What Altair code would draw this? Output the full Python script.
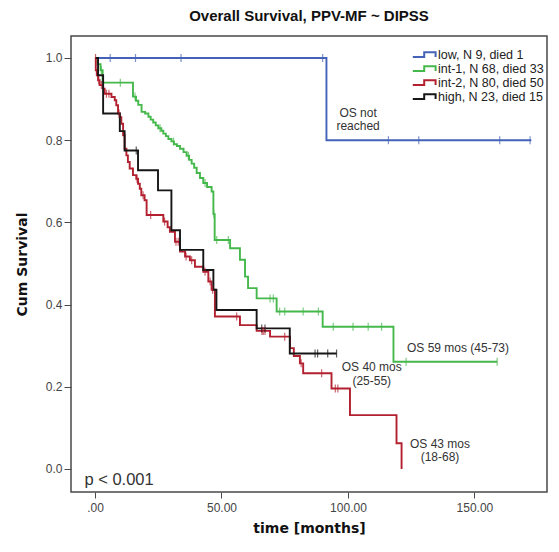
import altair as alt
import pandas as pd

# ---------------- data ----------------
series_names = ["low", "int-1", "int-2", "high"]
series_labels = ["low, N 9, died 1", "int-1, N 68, died 33",
                 "int-2, N 80, died 50", "high, N 23, died 15"]
series_colors = ["#4463b8", "#45b84b", "#b3202f", "#161616"]

low_t = [0, 91.5, 172.5]
low_s = [1.0, 0.8, 0.8]
low_cens = [6, 16, 34, 90, 116, 128, 160, 172]

int1_t = [0, 1.0, 2.2, 3.0, 15.0, 16.2, 17.1, 18.4, 19.8, 21.1, 22.0, 23.0, 24.0,
          25.0, 26.2, 27.0, 28.0, 29.0, 30.2, 31.2, 32.4, 33.6, 35.0, 36.2, 37.2,
          38.2, 39.2, 40.2, 41.5, 42.8, 44.3, 46.1, 46.8, 47.3, 53.4, 57.3, 59.3,
          60.5, 63.9, 71.8, 90.0, 118.0, 159.0]
int1_s = [1.0, 0.985, 0.97, 0.94, 0.906, 0.896, 0.886, 0.869, 0.865, 0.857, 0.850,
          0.843, 0.836, 0.829, 0.823, 0.816, 0.810, 0.803, 0.797, 0.790, 0.786,
          0.779, 0.771, 0.762, 0.752, 0.743, 0.733, 0.720, 0.708, 0.696, 0.686,
          0.675, 0.620, 0.557, 0.537, 0.509, 0.468, 0.440, 0.415, 0.383, 0.346,
          0.261, 0.261]
int1_cens = [2.5, 10, 15.8, 25.7, 31, 36.9, 43.5, 47, 48.1, 52.7, 69.2, 70.5, 73, 75,
             82.3, 88.3, 94.2, 102, 108, 113.3, 123, 159]

int2_t = [0, 0.3, 0.7, 1.2, 1.8, 3.2, 3.8, 6.5, 7.8, 8.4, 9.1, 9.8, 10.4, 11.1, 11.7,
          12.4, 13.0, 13.7, 15.0, 16.3, 17.0, 17.7, 18.3, 19.6, 20.4, 27.0, 28.7,
          29.6, 31.6, 33.6, 35.6, 37.5, 39.5, 42.8, 44.8, 46.1, 47.4, 57.3, 63.9,
          69.2, 77.1, 78.6, 81.0, 82.3, 93.5, 100.8, 119.2, 121.2]
int2_s = [1.0, 0.970, 0.958, 0.946, 0.934, 0.925, 0.913, 0.905, 0.897, 0.885, 0.865,
          0.856, 0.840, 0.812, 0.779, 0.763, 0.747, 0.731, 0.715, 0.706, 0.694,
          0.682, 0.666, 0.654, 0.618, 0.602, 0.588, 0.577, 0.553, 0.529, 0.517,
          0.508, 0.492, 0.480, 0.456, 0.436, 0.371, 0.350, 0.336, 0.322, 0.294,
          0.275, 0.257, 0.233, 0.196, 0.131, 0.0625, 0.0]
int2_cens = [0.2, 1.5, 2.5, 4.5, 5.5, 9.5, 16.6, 19.0, 22, 27.5, 32.0, 32.9, 36.0,
             38.2, 43.5, 45.5, 46.5, 56, 66, 66.5, 67.2, 75, 81.5, 89.6, 95, 96]

high_t = [0, 1.2, 3.2, 9.8, 11.7, 17.0, 24.9, 30.2, 33.6, 42.8, 46.8, 48.0, 63.9,
          77.0, 95.5]
high_s = [1.0, 0.958, 0.865, 0.822, 0.775, 0.727, 0.678, 0.581, 0.533, 0.484, 0.436,
          0.387, 0.342, 0.281, 0.281]
high_cens = [16.3, 65.9, 67.2, 87, 88, 92, 95.5]

note_x = [104, 104, 143.5, 109.4, 109.4, 136.4, 136.4]
note_y = [0.866, 0.835, 0.294, 0.247, 0.215, 0.062, 0.029]
note_text = ["OS not", "reached", "OS 59 mos (45-73)", "OS 40 mos", "(25-55)",
             "OS 43 mos", "(18-68)"]
p_x = [-4.2]
p_y = [-0.027]
p_text = ["p < 0.001"]

x_ticks = [0, 50, 100, 150]
y_ticks = [0.0, 0.2, 0.4, 0.6, 0.8, 1.0]

# ---------------- tables ----------------
curves = [(low_t, low_s, low_cens), (int1_t, int1_s, int1_cens),
          (int2_t, int2_s, int2_cens), (high_t, high_s, high_cens)]

def level(ts, ss, t):
    v = ss[0]
    for ti, si in zip(ts, ss):
        if ti <= t:
            v = si
    return v

line_rows, cens_rows = [], []
for k, (lab, (ts, ss, cs)) in enumerate(zip(series_labels, curves)):
    for i, (t, s) in enumerate(zip(ts, ss)):
        line_rows.append({"grp": lab, "t": t, "s": s, "k": k, "i": i})
    for c in cs:
        cens_rows.append({"grp": lab, "t": c, "s": level(ts, ss, c), "k": k})

lines_df = pd.DataFrame(line_rows)
cens_df = pd.DataFrame(cens_rows)
notes_df = pd.DataFrame({"x": note_x, "y": note_y, "text": note_text})
p_df = pd.DataFrame({"x": p_x, "y": p_y, "text": p_text})

FONT = "Liberation Sans"
x_scale = alt.Scale(domain=[-9.5, 178.7], nice=False, zero=False)
y_scale = alt.Scale(domain=[-0.056, 1.0535], nice=False, zero=False)
color_scale = alt.Scale(domain=series_labels, range=series_colors)

x_axis = alt.Axis(values=x_ticks, title="time [months]",
                  labelExpr="datum.value == 0 ? '.00' : format(datum.value, '.2f')",
                  grid=False, domain=False, tickSize=6, tickColor="#4a4a4a",
                  labelPadding=4, labelFontSize=12, labelColor="#444", labelFont=FONT,
                  titleFont="DejaVu Sans", titleFontSize=14, titleFontWeight="bold",
                  titleColor="#111", titlePadding=8)
y_axis = alt.Axis(values=y_ticks, title="Cum Survival", format=".1f",
                  grid=False, domain=False, tickSize=7, tickColor="#4a4a4a",
                  labelPadding=2, labelFontSize=12, labelColor="#444", labelFont=FONT,
                  titleFont="DejaVu Sans", titleFontSize=14, titleFontWeight="bold",
                  titleColor="#111", titlePadding=16)

# step-shaped legend symbol (retraced so that it encloses no area)
step_icon = ("M-0.2,0.35L1.7,0.35L1.7,-0.45L3.6,-0.45L3.6,0.35"
             "L3.6,-0.45L1.7,-0.45L1.7,0.35Z")
legend = alt.Legend(title=None, orient="none", legendX=336, legendY=12,
                    symbolType=step_icon, symbolSize=144, symbolStrokeWidth=2,
                    symbolFillColor="transparent",
                    labelFont=FONT, labelFontSize=12.5, labelColor="#222",
                    padding=0, rowPadding=0, labelOffset=17)

lines = alt.Chart(lines_df).mark_line(interpolate="step-after", strokeWidth=1.9).encode(
    x=alt.X("t:Q", scale=x_scale, axis=x_axis),
    y=alt.Y("s:Q", scale=y_scale, axis=y_axis),
    color=alt.Color("grp:N", scale=color_scale, legend=legend),
    order="i:Q",
)

ticks = alt.Chart(cens_df).mark_tick(orient="vertical", size=8, thickness=1.2).encode(
    x=alt.X("t:Q", scale=x_scale),
    y=alt.Y("s:Q", scale=y_scale),
    color=alt.Color("grp:N", scale=color_scale, legend=None),
)

notes = alt.Chart(notes_df).mark_text(
    font=FONT, fontSize=12, color="#333", align="center").encode(
    x=alt.X("x:Q", scale=x_scale), y=alt.Y("y:Q", scale=y_scale), text="text:N")
pval = alt.Chart(p_df).mark_text(
    font=FONT, fontSize=16.5, color="#333", align="left").encode(
    x=alt.X("x:Q", scale=x_scale), y=alt.Y("y:Q", scale=y_scale), text="text:N")

chart = alt.layer(lines, ticks, notes, pval).properties(
    width=476, height=456,
    padding={"left": 71, "top": 36, "right": 12, "bottom": 60},
    autosize=alt.AutoSizeParams(type="none"),
    background="white",
    title=alt.TitleParams("Overall Survival, PPV-MF ~ DIPSS", font=FONT, fontSize=15,
                          fontWeight="bold", color="#111", anchor="middle", offset=12),
).configure_view(stroke="#4a4a4a", strokeWidth=1.5)

chart.save("out.html", embed_options={"renderer": "svg", "actions": False})
